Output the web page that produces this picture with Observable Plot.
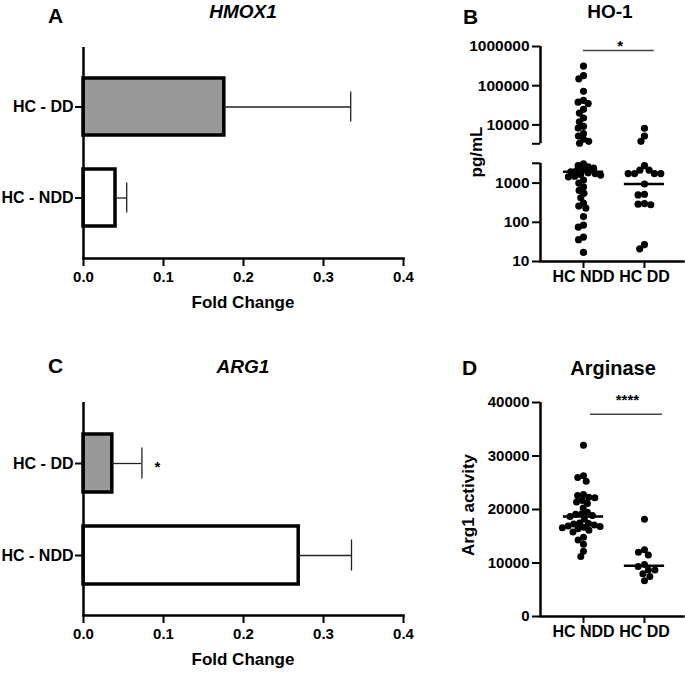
<!DOCTYPE html>
<html><head><meta charset="utf-8">
<script src="https://cdn.jsdelivr.net/npm/d3@7"></script>
<script src="https://cdn.jsdelivr.net/npm/@observablehq/plot@0.6"></script>
<style>
body{margin:0;background:#fff;}
#fig{position:relative;width:685px;height:675px;font-family:"Liberation Sans",Arial,sans-serif;font-weight:bold;color:#000;overflow:hidden;background:#fff}
.abs{position:absolute;white-space:nowrap;line-height:1}
.panel{position:absolute}
.panel svg{max-width:none;background:transparent;overflow:visible}
</style></head><body><div id="fig"></div>
<script>
// ---------- data ----------
const barCategories = ["HC - DD", "HC - NDD"];
const hmox1Mean = [0.176, 0.040];
const hmox1Upper = [0.334, 0.054];
const arg1Mean = [0.036, 0.269];
const arg1Upper = [0.073, 0.335];
const foldTicks = [0, 0.1, 0.2, 0.3, 0.4];

const groups = ["HC NDD", "HC DD"];
const ho1NDD = [316000, 180000, 150000, 72000, 42000, 38000, 35000, 25000, 20000,
  15000, 12000, 9200, 8300, 6000, 5200, 4300, 3800, 3400,
  3100, 2800, 2600, 2400, 2200, 2050, 1950, 1850, 1750, 1650, 1600, 1500, 1450,
  1200, 1000, 800, 650, 550, 420, 310, 260, 230, 140, 85, 75, 42, 36, 17];
const ho1DD = [8200, 5200, 3800, 2800, 2150, 2150, 1750, 1750, 1750, 1750, 950, 520, 500,
  300, 280, 290, 21, 27];
const ho1Median = [1950, 950];
const ho1Ticks = [10, 100, 1000, 10000, 100000, 1000000];
const ho1Break = [3200, 3300];

const argNDD = [32000, 26300, 26000, 25300, 22800, 22600, 22300, 22200, 21700, 21400, 21100,
  20300, 19500, 19200, 19100, 18900, 18700, 18200, 17500, 17300, 17100, 16900, 16800, 16700,
  16600, 17400, 16400, 16100, 15800, 14800, 14300, 13500, 12200, 11200];
const argDD = [18200, 12500, 12000, 11500, 9700, 9350, 8700, 8700, 8000, 7500, 6700];
const argMedian = [18700, 9500];
const argTicks = [0, 10000, 20000, 30000, 40000];

// ---------- helpers ----------
const fig = document.getElementById("fig");
const FONT = '"Liberation Sans", Arial, sans-serif';
function place(svg, left, top) {
  const d = document.createElement("div");
  d.className = "panel";
  d.style.left = left + "px"; d.style.top = top + "px";
  d.appendChild(svg); fig.appendChild(d);
}
function label(text, x, y, fs, opts = {}) {
  const d = document.createElement("div");
  d.className = "abs";
  d.textContent = text;
  d.style.fontSize = fs + "px";
  if (opts.italic) d.style.fontStyle = "italic";
  d.style.left = x + "px";
  if (opts.rotate) {
    d.style.top = y + "px";
    d.style.transform = "translate(-50%,-50%) rotate(-90deg)";
  } else {
    d.style.top = (y - 0.8465 * fs) + "px";
    if (opts.anchor === "middle") d.style.transform = "translateX(-50%)";
  }
  fig.appendChild(d);
}
// beeswarm in pixel space, returns offsets in x units
function swarm(values, yPx, center, pxPerUnit, dist) {
  const pts = values.map(v => ({v, py: yPx(v)}));
  pts.sort((a, b) => a.py - b.py);
  const placed = [];
  for (const p of pts) {
    const cands = [0];
    for (const q of placed) {
      const dy = Math.abs(q.py - p.py);
      if (dy < dist) { const dx = Math.sqrt(dist * dist - dy * dy); cands.push(q.px + dx, q.px - dx); }
    }
    cands.sort((a, b) => Math.abs(a) - Math.abs(b) || a - b);
    for (const c of cands) {
      if (placed.every(q => (q.px - c) ** 2 + (q.py - p.py) ** 2 >= dist * dist - 1e-6)) { p.px = c; break; }
    }
    placed.push(p);
  }
  return placed.map(p => ({v: p.v, x: center + p.px / pxPerUnit}));
}

const barFill = {"HC - DD": "#999999", "HC - NDD": "#ffffff"};

function barPanel(means, uppers, star) {
  const data = barCategories.map((c, i) => ({cat: c, mean: means[i], upper: uppers[i]}));
  const marks = [
    Plot.barX(data, {x: "mean", y: "cat", fill: d => barFill[d.cat], stroke: "#000", strokeWidth: 3.5}),
    Plot.ruleY(data, {y: "cat", x1: "mean", x2: "upper", stroke: "#222", strokeWidth: 1.3}),
    Plot.tickX(data, {x: "upper", y: "cat", insetTop: 13.5, insetBottom: 13.5, stroke: "#222", strokeWidth: 1.3}),
    Plot.ruleX([0], {stroke: "#000", strokeWidth: 2.5}),
    Plot.frame({anchor: "bottom", stroke: "#000", strokeWidth: 2.5}),
    Plot.axisX({ticks: foldTicks, tickFormat: d3.format(".1f"), tickSize: 8, tickPadding: 5, strokeWidth: 2, fontSize: 15, label: null}),
    Plot.axisY({tickSize: 8, tickPadding: 2, strokeWidth: 2, fontSize: 16, label: null})
  ];
  if (star) marks.push(Plot.text([star], {x: "x", y: "cat", text: "t", fontSize: 15, dy: 4}));
  return marks;
}

// Panel A
place(Plot.plot({
  width: 420, height: 320, marginLeft: 83, marginRight: 17, marginTop: 47, marginBottom: 62,
  style: {fontFamily: FONT, fontWeight: "bold", color: "#000", background: "transparent"},
  color: {type: "identity"},
  x: {domain: [0, 0.4]},
  y: {domain: barCategories, paddingInner: 0.37, paddingOuter: 0.34},
  marks: barPanel(hmox1Mean, hmox1Upper, null)
}), 0, 0);

// Panel C
place(Plot.plot({
  width: 420, height: 345, marginLeft: 83, marginRight: 17, marginTop: 72, marginBottom: 60,
  style: {fontFamily: FONT, fontWeight: "bold", color: "#000", background: "transparent"},
  color: {type: "identity"},
  x: {domain: [0, 0.4]},
  y: {domain: barCategories, paddingInner: 0.37, paddingOuter: 0.34},
  marks: barPanel(arg1Mean, arg1Upper, {x: 0.0925, cat: "HC - DD", t: "*"})
}), 0, 330);

// Panel B: log scale with a break
const xMin = -0.705, xMax = 1.64;
const G = 0.485;
const tf = v => Math.log10(v) + (v > ho1Break[0] ? G : 0);
const yB = d3.scaleLinear().domain([tf(10), tf(1e6)]).range([215, 0]);
const ptsB = [...swarm(ho1NDD, v => yB(tf(v)), 0, 61, 5.6), ...swarm(ho1DD, v => yB(tf(v)), 1, 61, 6.4)];
const ho1TickPos = ho1Ticks.map(tf);
place(Plot.plot({
  width: 245, height: 265, marginLeft: 100, marginRight: 2, marginTop: 16, marginBottom: 34,
  style: {fontFamily: FONT, fontWeight: "bold", color: "#000", background: "transparent"},
  x: {domain: [xMin, xMax]},
  y: {domain: [tf(10), tf(1e6)]},
  marks: [
    Plot.ruleX([{a: 10, b: ho1Break[0]}, {a: ho1Break[1], b: 1e6}], {x: xMin, y1: d => tf(d.a), y2: d => tf(d.b), stroke: "#000", strokeWidth: 2.5}),
    Plot.frame({anchor: "bottom", stroke: "#000", strokeWidth: 2.5}),
    Plot.dot(ptsB, {x: "x", y: d => tf(d.v), r: 3.6, fill: "#000", stroke: "none"}),
    Plot.ruleY(ho1Median.map((m, i) => ({m, i})), {y: d => tf(d.m), x1: d => d.i - 0.33, x2: d => d.i + 0.33, stroke: "#000", strokeWidth: 2.5}),
    Plot.ruleY([790000], {y: tf, x1: 0, x2: 1.16, stroke: "#444", strokeWidth: 1.4}),
    Plot.text(["*"], {x: 0.6, y: tf(1.04e6), text: d => d, fontSize: 15}),
    Plot.axisY({ticks: [...ho1TickPos, tf(ho1Break[0]), tf(ho1Break[1])],
      tickFormat: t => { const i = ho1TickPos.indexOf(t); return i >= 0 ? String(ho1Ticks[i]) : ""; },
      tickSize: 8, tickPadding: 3, strokeWidth: 2, fontSize: 15.5, label: null}),
    Plot.axisX({ticks: [0, 1], tickFormat: i => groups[i], tickSize: 7, tickPadding: 2, strokeWidth: 2, fontSize: 16, label: null})
  ]
}), 440, 30);

// Panel D
const yD = d3.scaleLinear().domain([0, 40000]).range([214, 0]);
const ptsD = [...swarm(argNDD, yD, 0, 61, 6.0), ...swarm(argDD, yD, 1, 61, 6.6)];
place(Plot.plot({
  width: 245, height: 275, marginLeft: 100, marginRight: 2, marginTop: 22, marginBottom: 39,
  style: {fontFamily: FONT, fontWeight: "bold", color: "#000", background: "transparent"},
  x: {domain: [xMin, xMax]},
  y: {domain: [0, 40000]},
  marks: [
    Plot.ruleX([xMin], {stroke: "#000", strokeWidth: 2.5}),
    Plot.frame({anchor: "bottom", stroke: "#000", strokeWidth: 2.5}),
    Plot.dot(ptsD, {x: "x", y: "v", r: 3.5, fill: "#000", stroke: "none"}),
    Plot.ruleY(argMedian.map((m, i) => ({m, i})), {y: "m", x1: d => d.i - 0.33, x2: d => d.i + 0.33, stroke: "#000", strokeWidth: 2.5}),
    Plot.ruleY([37800], {x1: 0.115, x2: 1.295, stroke: "#444", strokeWidth: 1.4}),
    Plot.text(["****"], {x: 0.72, y: 40500, text: d => d, fontSize: 15}),
    Plot.axisY({ticks: argTicks, tickFormat: d3.format("d"), tickSize: 8, tickPadding: 3, strokeWidth: 2, fontSize: 15, label: null}),
    Plot.axisX({ticks: [0, 1], tickFormat: i => groups[i], tickSize: 7, tickPadding: 2, strokeWidth: 2, fontSize: 16, label: null})
  ]
}), 440, 380);

// ---------- titles & labels ----------
label("A", 48, 23, 21);
label("HMOX1", 243, 18, 19, {anchor: "middle", italic: true});
label("Fold Change", 243, 308, 17, {anchor: "middle"});
label("C", 48, 373, 21);
label("ARG1", 243, 373, 19, {anchor: "middle", italic: true});
label("Fold Change", 243, 665, 17, {anchor: "middle"});
label("B", 463, 24, 21);
label("HO-1", 610, 18, 19, {anchor: "middle"});
label("pg/mL", 476, 152, 17, {rotate: true});
label("D", 462, 375, 21);
label("Arginase", 613, 375, 20, {anchor: "middle"});
label("Arg1 activity", 468, 505, 17, {rotate: true});
</script></body></html>
